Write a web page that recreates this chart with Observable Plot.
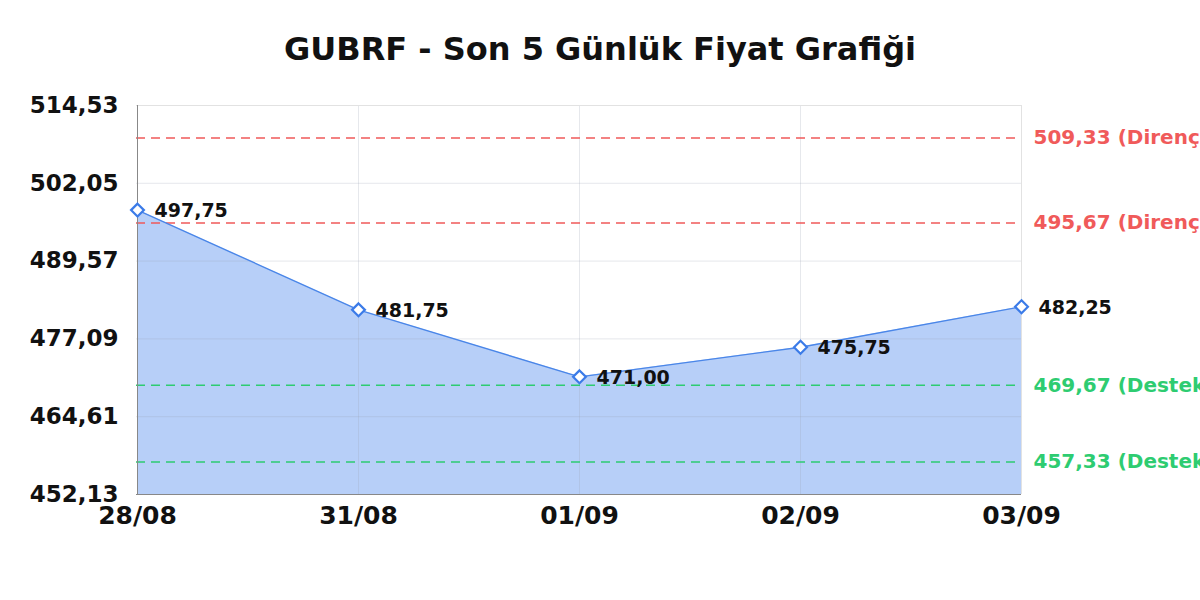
<!DOCTYPE html>
<html>
<head>
<meta charset="utf-8">
<script src="https://cdn.jsdelivr.net/npm/d3@7"></script>
<script src="https://cdn.jsdelivr.net/npm/@observablehq/plot@0.6"></script>
<style>
  html, body { margin: 0; padding: 0; background: #fff; overflow: hidden; width: 1200px; height: 600px; }
  #title { height: 75px; box-sizing: border-box; padding-top: 30px; text-align: center; font-family: "DejaVu Sans", sans-serif; font-weight: bold; font-size: 32px; color: #111; line-height: 38px; }
  #chart svg { display: block; overflow: visible; }
</style>
</head>
<body>
<div id="title">GUBRF - Son 5 Günlük Fiyat Grafiği</div>
<div id="chart"></div>
<script>
const dates = ["28/08", "31/08", "01/09", "02/09", "03/09"];
const prices = [497.75, 481.75, 471.00, 475.75, 482.25];
const yTicks = [452.13, 464.61, 477.09, 489.57, 502.05, 514.53];
const resistance = [509.33, 495.67];
const support = [469.67, 457.33];

const fmt = v => v.toFixed(2).replace(".", ",");
const data = dates.map((d, i) => ({date: d, price: prices[i]}));
const yMin = yTicks[0], yMax = yTicks[yTicks.length - 1];
const levels = [
  ...resistance.map(v => ({v, label: fmt(v) + " (Direnç)", color: "#f05a5a"})),
  ...support.map(v => ({v, label: fmt(v) + " (Destek)", color: "#2ecc71"}))
];

const chart = Plot.plot({
  width: 1200,
  height: 525,
  marginTop: 30,
  marginBottom: 106,
  marginLeft: 136,
  marginRight: 179,
  style: {fontFamily: "DejaVu Sans, sans-serif", background: "transparent"},
  x: {type: "point", domain: dates, padding: 0, label: null},
  y: {domain: [yMin, yMax], label: null},
  marks: [
    Plot.areaY(data, {x: "date", y1: yMin, y2: "price", fill: "#b7cff8"}),
    Plot.gridY(yTicks, {stroke: "#9aa4b4", strokeOpacity: 0.25}),
    Plot.gridX(dates, {stroke: "#9aa4b4", strokeOpacity: 0.25}),
    Plot.ruleY([yMax], {stroke: "#e2e2e2"}),
    Plot.ruleX([dates[dates.length - 1]], {stroke: "#e2e2e2"}),
    Plot.ruleY(levels, {y: "v", stroke: "color", strokeDasharray: "9,6", strokeWidth: 1.5}),
    Plot.text(levels, {y: "v", text: "label", fill: "color", frameAnchor: "right", dx: 12, textAnchor: "start", fontSize: 20, fontWeight: "bold"}),
    Plot.lineY(data, {x: "date", y: "price", stroke: "#4a86e8", strokeWidth: 1.4}),
    Plot.ruleX([dates[0]], {stroke: "#888"}),
    Plot.ruleY([yMin], {stroke: "#888"}),
    Plot.dot(data, {x: "date", y: "price", symbol: "diamond2", r: 5.8, fill: "#fff", stroke: "#3b7be8", strokeWidth: 2.2}),
    Plot.text(data, {x: "date", y: "price", text: d => fmt(d.price), dx: 17, dy: 1, textAnchor: "start", fontSize: 19, fontWeight: "bold", fill: "#111"}),
    Plot.axisY(yTicks, {tickFormat: fmt, tickSize: 0, tickPadding: 18, fontSize: 23, fontWeight: "bold", fill: "#111"}),
    Plot.axisX(dates, {tickSize: 0, tickPadding: 12, fontSize: 25, fontWeight: "bold", fill: "#111"})
  ]
});
document.getElementById("chart").appendChild(chart);
</script>
</body>
</html>
